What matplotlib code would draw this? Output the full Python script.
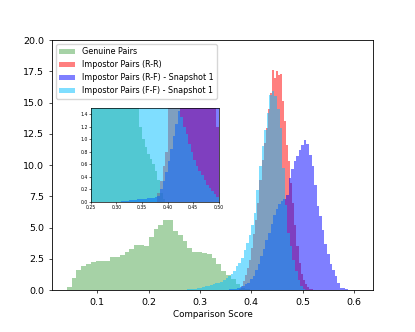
import numpy as np
import matplotlib
matplotlib.use("Agg")
import matplotlib.pyplot as plt

# ---- histogram bar heights (density) ----
# Genuine pairs: bins start 0.0406, width 0.0094
genuine_start, genuine_w = 0.0406, 0.0094
genuine = [0.24, 0.93, 1.6, 1.89, 2.1, 2.27, 2.29, 2.35, 2.35, 2.67,
           2.61, 2.83, 3.01, 3.31, 3.63, 3.6, 3.52, 4.27, 4.9, 5.23,
           5.63, 5.57, 4.75, 4.37, 3.92, 3.39, 3.04, 3.03, 3.0, 2.9,
           2.6, 2.1, 1.55, 1.2, 0.85, 0.5, 0.2, 0.05]

# Impostor R-R: bins start 0.376, width 0.004
rr_start, rr_w = 0.376, 0.004
impostor_rr = [0.1, 0.3, 0.7, 1.2, 1.8, 2.4, 3.4, 4.5, 5.6, 7.0,
               8.8, 10.4, 11.8, 13.0, 14.5, 15.8, 17.6, 17.0, 17.5, 17.2,
               17.3, 15.1, 13.5, 11.6, 10.3, 8.6, 7.0, 5.2, 3.5, 2.2,
               1.3, 0.8, 0.45, 0.25, 0.12, 0.05]

# Impostor R-F snapshot 1: bins start 0.3575, width 0.005
rf_start, rf_w = 0.3575, 0.005
impostor_rf = [0.05, 0.08, 0.12, 0.18, 0.25, 0.33, 0.45, 0.6, 0.85, 1.15,
               1.6, 2.1, 2.7, 3.3, 4.0, 4.6, 5.3, 6.0, 6.5, 6.9,
               7.1, 7.3, 7.6, 9.0, 9.7, 10.3, 10.7, 11.2, 11.6, 12.0,
               11.7, 10.8, 9.9, 8.4, 6.7, 5.9, 4.8, 3.7, 2.9, 2.1,
               1.6, 1.1, 0.55, 0.2, 0.13, 0.05]

# Impostor F-F snapshot 1: bins start 0.27, width 0.005
ff_start, ff_w = 0.27, 0.005
impostor_ff = [0.03, 0.05, 0.07, 0.1, 0.12, 0.15, 0.2, 0.25, 0.3, 0.35,
               0.4, 0.45, 0.53, 0.6, 0.67, 0.8, 0.95, 1.1, 1.3, 1.5,
               1.9, 2.2, 2.6, 3.2, 3.8, 4.4, 5.2, 6.2, 8.0, 9.9,
               11.5, 12.8, 14.2, 15.6, 15.9, 15.5, 14.5, 13.0, 9.8, 6.8,
               4.6, 3.5, 2.4, 1.5, 0.8, 0.35, 0.12]

# inset (0.25 - 0.50), bins start 0.25, width 0.005
inset_start, inset_w = 0.25, 0.005
inset_genuine = [5.2, 5.6, 5.5, 4.8, 4.4, 4.0, 3.5, 3.2, 3.0, 3.0,
                 3.0, 3.0, 2.9, 2.7, 2.4, 2.1, 1.9, 1.7, 1.6, 1.2,
                 1.0, 0.87, 0.77, 0.69, 0.6, 0.5, 0.35, 0.15, 0.05, 0,
                 0, 0, 0, 0, 0, 0, 0, 0, 0, 0,
                 0, 0, 0, 0, 0, 0, 0, 0, 0, 0]
inset_rr = [0, 0, 0, 0, 0, 0, 0, 0, 0, 0,
            0, 0, 0, 0, 0, 0, 0, 0, 0, 0,
            0, 0, 0, 0, 0, 0, 0.15, 0.34, 0.58, 0.8,
            2.0, 2.6, 3.2, 3.8, 4.4, 5.0, 5.5, 6.0, 6.0, 5.5,
            5.0, 4.5, 4.0, 3.5, 3.0, 2.6, 2.2, 1.9, 1.6, 1.2]
inset_rf = [0, 0, 0, 0, 0, 0, 0, 0, 0, 0,
            0, 0, 0.02, 0.02, 0.02, 0.03, 0.03, 0.03, 0.04, 0.04,
            0.05, 0.05, 0.06, 0.06, 0.07, 0.08, 0.1, 0.2, 0.33, 0.48,
            0.65, 0.85, 1.05, 1.25, 1.45, 1.7, 2.0, 2.3, 2.6, 3.0,
            3.4, 3.8, 4.2, 4.6, 5.0, 5.4, 5.8, 6.2, 6.6, 7.0]
inset_ff = [3.0, 3.0, 3.0, 3.0, 3.0, 3.0, 3.0, 3.0, 3.0, 3.0,
            3.0, 3.0, 3.0, 3.0, 3.0, 3.0, 3.0, 3.0, 3.0, 3.0,
            3.0, 3.0, 3.0, 3.0, 3.0, 3.0, 3.0, 2.8, 2.6, 2.4,
            2.2, 2.0, 1.8, 1.7, 1.6, 1.35, 1.2, 1.08, 0.93, 0.8,
            0.67, 0.57, 0.5, 0.43, 0.35, 0.27, 0.22, 0.17, 0.12, 0.08]

labels = ['Genuine Pairs', 'Impostor Pairs (R-R)',
          'Impostor Pairs (R-F) - Snapshot 1', 'Impostor Pairs (F-F) - Snapshot 1']
colors = ['green', 'red', 'blue', 'deepskyblue']
alphas = [0.35, 0.5, 0.5, 0.5]


def edges(start, w, n):
    return start + w * np.arange(n)


def draw(ax, series, with_labels=True):
    for (start, w, h), lab, c, a in zip(series, labels, colors, alphas):
        ax.bar(edges(start, w, len(h)), h, width=w, align='edge',
               color=c, alpha=a, linewidth=0,
               label=lab if with_labels else None)


fig = plt.figure(figsize=(4.15, 3.32), dpi=100)
ax = fig.add_axes([0.1253, 0.1265, 0.7735, 0.753])

draw(ax, [(genuine_start, genuine_w, genuine),
          (rr_start, rr_w, impostor_rr),
          (rf_start, rf_w, impostor_rf),
          (ff_start, ff_w, impostor_ff)])

ax.set_xlim(0.012, 0.637)
ax.set_ylim(0, 20)
ax.set_xticks([0.1, 0.2, 0.3, 0.4, 0.5, 0.6])
ax.set_yticks(np.arange(0, 20.1, 2.5))
ax.tick_params(labelsize=6.8, length=2.2, width=0.5)
for s in ax.spines.values():
    s.set_linewidth(0.6)
ax.set_xlabel('Comparison Score', fontsize=6.3, labelpad=2)
ax.legend(loc='upper left', fontsize=5.8, framealpha=0.8)

# zoomed inset
axin = fig.add_axes([0.2186, 0.3916, 0.309, 0.283])
draw(axin, [(inset_start, inset_w, inset_genuine),
            (inset_start, inset_w, inset_rr),
            (inset_start, inset_w, inset_rf),
            (inset_start, inset_w, inset_ff)], with_labels=False)
axin.set_xlim(0.25, 0.5)
axin.set_ylim(0, 1.5)
axin.set_xticks([0.25, 0.30, 0.35, 0.40, 0.45, 0.50])
axin.set_yticks([0.0, 0.2, 0.4, 0.6, 0.8, 1.0, 1.2, 1.4])
axin.tick_params(labelsize=3.3, length=1.2, width=0.4, pad=1)
for s in axin.spines.values():
    s.set_linewidth(0.5)

fig.savefig('out.png', dpi=100)
